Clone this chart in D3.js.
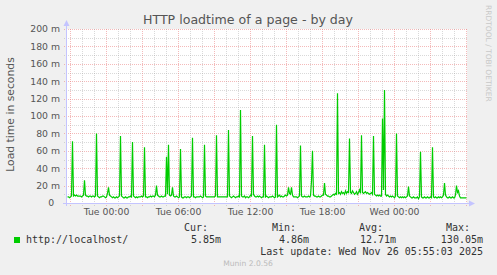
<!DOCTYPE html>
<html>
<head>
<meta charset="utf-8">
<script src="https://cdn.jsdelivr.net/npm/d3@7"></script>
<style>
  body { margin: 0; background: #f0f0f0; }
  svg { display: block; font-family: "DejaVu Sans", sans-serif; }
  .mono { font-family: "DejaVu Sans Mono", monospace; white-space: pre; }
</style>
</head>
<body>
<script>
// munin day graph: one sample every 5 minutes, starting Mon 24 Nov 20:42:30
const startTime = new Date(2025, 10, 24, 20, 42, 30);
const stepMinutes = 5;

// load time in ms, one row = one hour (12 samples)
const loadMs = [
  7, 7, 6, 7, 8, 71, 8, 9, 8, 9, 8, 8,
  8, 8, 7, 8, 9, 26, 9, 8, 8, 7, 8, 8,
  7, 8, 8, 7, 8, 80, 8, 7, 6, 7, 7, 8,
  8, 7, 6, 7, 11, 18, 9, 8, 7, 6, 7, 6,
  6, 7, 6, 7, 8, 77, 8, 7, 6, 6, 7, 6,
  6, 7, 7, 8, 7, 70, 8, 7, 6, 7, 6, 7,
  7, 7, 8, 7, 8, 64, 7, 7, 6, 7, 7, 8,
  7, 8, 8, 7, 9, 20, 9, 8, 7, 7, 8, 7,
  7, 8, 8, 53, 10, 67, 9, 8, 9, 18, 8, 7,
  7, 8, 7, 6, 7, 62, 7, 6, 6, 7, 7, 6,
  7, 7, 6, 7, 8, 75, 7, 7, 6, 7, 7, 7,
  7, 8, 7, 6, 7, 67, 8, 7, 7, 7, 7, 7,
  7, 7, 7, 7, 8, 78, 7, 7, 7, 7, 7, 7,
  7, 7, 7, 7, 7, 84, 8, 7, 6, 7, 8, 7,
  6, 7, 7, 8, 7, 107, 8, 7, 7, 8, 6, 7,
  7, 6, 7, 9, 8, 77, 10, 8, 7, 7, 8, 7,
  8, 7, 6, 7, 7, 67, 7, 8, 7, 6, 7, 7,
  7, 8, 7, 6, 7, 90, 7, 8, 9, 7, 8, 7,
  7, 8, 9, 8, 9, 18, 11, 10, 18, 9, 7, 7,
  7, 7, 6, 7, 8, 66, 8, 7, 7, 8, 7, 7,
  7, 8, 7, 8, 25, 60, 9, 8, 8, 7, 7, 8,
  7, 7, 8, 9, 9, 23, 10, 9, 8, 8, 7, 7,
  8, 9, 10, 9, 11, 10, 126, 11, 12, 10, 13, 11,
  12, 10, 14, 11, 13, 12, 74, 12, 11, 14, 12, 10,
  11, 13, 10, 12, 15, 11, 78, 12, 11, 12, 13, 11,
  12, 11, 10, 11, 12, 10, 77, 10, 9, 8, 9, 8,
  9, 8, 8, 97, 15, 130, 10, 8, 9, 8, 7, 8,
  7, 8, 7, 6, 8, 80, 8, 7, 6, 7, 6, 7,
  6, 7, 6, 7, 8, 19, 8, 7, 6, 6, 7, 6,
  6, 6, 7, 4.86, 7, 59, 7, 6, 6, 7, 6, 6,
  7, 6, 6, 7, 6, 64, 7, 6, 7, 6, 6, 7,
  6, 7, 6, 7, 9, 23, 9, 7, 6, 6, 7, 6,
  6, 7, 6, 6, 9, 20, 12, 14, 8, 6, 6, 6,
  6, 6, 6, 5.85
];

const yTicks = [0, 20, 40, 60, 80, 100, 120, 140, 160, 180, 200];
const seriesName = "http://localhost/";
const statHeads = ["Cur:", "Min:", "Avg:", "Max:"];
const statValues = ["5.85m", "4.86m", "12.71m", "130.05m"];
const lastUpdate = "Last update: Wed Nov 26 05:55:03 2025";

const WIDTH = 497;
const HEIGHT = 275;
const PLOT = { left: 67, right: 467, top: 29, bottom: 203 };
const GREEN = "#00cc00";
const AXIS = "#c4c4ff";
const MINOR = "rgba(160,160,160,0.4)";
const MAJOR = "rgba(235,130,130,0.55)";

const data = loadMs.map((v, i) => ({
  t: new Date(startTime.getTime() + (i + 0.5) * stepMinutes * 60000),
  v: v
}));

const x = d3.scaleTime()
  .domain([startTime, new Date(startTime.getTime() + 400 * stepMinutes * 60000)])
  .range([PLOT.left, PLOT.right]);

const y = d3.scaleLinear()
  .domain([0, 200])
  .range([PLOT.bottom, PLOT.top]);

const svg = d3.select("body").append("svg")
  .attr("width", WIDTH)
  .attr("height", HEIGHT);

svg.append("rect").attr("width", WIDTH).attr("height", HEIGHT).attr("fill", "#f0f0f0");

// canvas
svg.append("rect")
  .attr("x", PLOT.left).attr("y", PLOT.top)
  .attr("width", PLOT.right - PLOT.left).attr("height", PLOT.bottom - PLOT.top)
  .attr("fill", "#fff");

const grid = svg.append("g").attr("shape-rendering", "crispEdges");

// horizontal grid: minor every 10m, major every 20m
d3.range(10, 201, 10).forEach(function(v) {
  const major = v % 20 === 0;
  grid.append("line")
    .attr("x1", PLOT.left - 3).attr("x2", PLOT.right)
    .attr("y1", Math.round(y(v)) + 0.5).attr("y2", Math.round(y(v)) + 0.5)
    .attr("stroke", major ? MAJOR : MINOR)
    .attr("stroke-dasharray", "1,1");
});

// vertical grid: minor every hour, major every 3 hours
x.ticks(d3.timeHour.every(1)).forEach(function(t) {
  const major = t.getHours() % 3 === 0;
  const xx = Math.floor(x(t)) + 0.5;
  grid.append("line")
    .attr("x1", xx).attr("x2", xx)
    .attr("y1", PLOT.top).attr("y2", PLOT.bottom + 3)
    .attr("stroke", major ? MAJOR : MINOR)
    .attr("stroke-dasharray", "1,1");
});

// axes
const axes = svg.append("g").attr("fill", AXIS).attr("stroke", AXIS);
axes.append("line")
  .attr("x1", PLOT.left - 0.5).attr("x2", PLOT.left - 0.5)
  .attr("y1", PLOT.bottom + 3).attr("y2", PLOT.top - 6)
  .attr("shape-rendering", "crispEdges");
axes.append("path")
  .attr("stroke", "none")
  .attr("d", `M${PLOT.left - 3.5},${PLOT.top - 3} L${PLOT.left - 0.5},${PLOT.top - 9} L${PLOT.left + 2.5},${PLOT.top - 3} Z`);
axes.append("line")
  .attr("x1", PLOT.left - 4).attr("x2", PLOT.right + 4)
  .attr("y1", PLOT.bottom + 0.5).attr("y2", PLOT.bottom + 0.5)
  .attr("shape-rendering", "crispEdges");
axes.append("path")
  .attr("stroke", "none")
  .attr("d", `M${PLOT.right + 2},${PLOT.bottom - 2.5} L${PLOT.right + 8},${PLOT.bottom + 0.5} L${PLOT.right + 2},${PLOT.bottom + 3.5} Z`);

// y labels
svg.append("g")
  .selectAll("text")
  .data(yTicks)
  .enter()
  .append("text")
  .attr("x", 60)
  .attr("y", d => y(d))
  .attr("dy", "0.36em")
  .attr("text-anchor", "end")
  .attr("font-size", "9.3px")
  .attr("fill", "#555")
  .style("white-space", "pre")
  .text(d => d === 0 ? "0  " : d + " m");

// x labels, every 6 hours, only those inside the canvas
const fmt = d3.timeFormat("%a %H:%M");
svg.append("g")
  .selectAll("text")
  .data(x.ticks(d3.timeHour.every(6)).filter(t => x(t) < PLOT.right - 30))
  .enter()
  .append("text")
  .attr("x", d => x(d))
  .attr("y", 215)
  .attr("text-anchor", "middle")
  .attr("font-size", "9.3px")
  .attr("fill", "#555")
  .text(d => fmt(d));

// series
svg.append("path")
  .datum(data)
  .attr("fill", "none")
  .attr("stroke", GREEN)
  .attr("stroke-width", 1.2)
  .attr("d", d3.line().x(d => x(d.t)).y(d => y(d.v)));

// title
svg.append("text")
  .attr("x", 248)
  .attr("y", 24)
  .attr("text-anchor", "middle")
  .attr("font-size", "12.6px")
  .attr("fill", "#555")
  .text("HTTP loadtime of a page - by day");

// vertical axis title
svg.append("text")
  .attr("transform", "translate(14,114.5) rotate(-90)")
  .attr("text-anchor", "middle")
  .attr("font-size", "10.8px")
  .attr("fill", "#555")
  .text("Load time in seconds");

// watermark
svg.append("text")
  .attr("transform", "translate(485.5,5) rotate(90)")
  .attr("font-size", "7.5px")
  .attr("fill", "#c8c8c8")
  .text("RRDTOOL / TOBI OETIKER");

// legend
svg.append("rect")
  .attr("x", 14).attr("y", 237)
  .attr("width", 6).attr("height", 6)
  .attr("fill", GREEN);

svg.append("text")
  .attr("class", "mono")
  .attr("x", 26).attr("y", 243)
  .attr("font-size", "10px")
  .attr("fill", "#333")
  .text(seriesName);

const headRight = [208, 296, 383, 470];
const valRight = [221, 309, 396, 483];

svg.append("g")
  .selectAll("text")
  .data(statHeads)
  .enter()
  .append("text")
  .attr("class", "mono")
  .attr("x", (d, i) => headRight[i]).attr("y", 231)
  .attr("text-anchor", "end")
  .attr("font-size", "10px")
  .attr("fill", "#333")
  .text(d => d);

svg.append("g")
  .selectAll("text")
  .data(statValues)
  .enter()
  .append("text")
  .attr("class", "mono")
  .attr("x", (d, i) => valRight[i]).attr("y", 243)
  .attr("text-anchor", "end")
  .attr("font-size", "10px")
  .attr("fill", "#333")
  .text(d => d);

svg.append("text")
  .attr("class", "mono")
  .attr("x", 483).attr("y", 255)
  .attr("text-anchor", "end")
  .attr("font-size", "10px")
  .attr("fill", "#333")
  .text(lastUpdate);

svg.append("text")
  .attr("x", 248).attr("y", 266)
  .attr("text-anchor", "middle")
  .attr("font-size", "7.6px")
  .attr("fill", "#bbb")
  .text("Munin 2.0.56");
</script>
</body>
</html>
